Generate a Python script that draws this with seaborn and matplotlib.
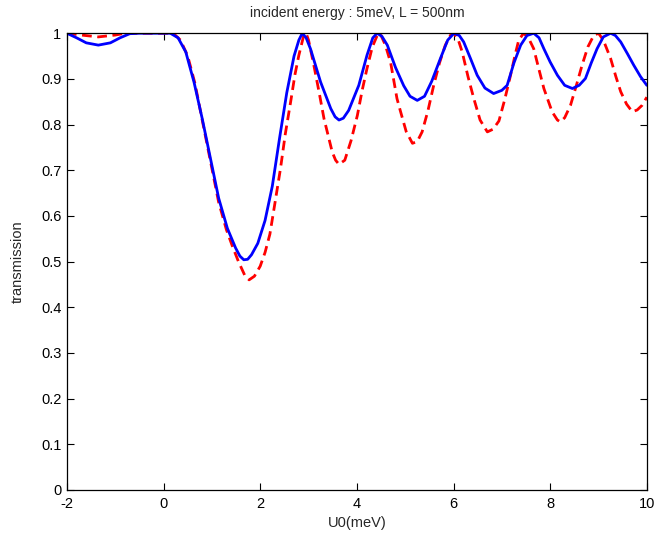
import numpy as np
import pandas as pd
import matplotlib
matplotlib.use("Agg")
import matplotlib.pyplot as plt
import seaborn as sns

# ---- data ----
blue_x = [-2.0, -1.8, -1.6, -1.35, -1.1, -0.9, -0.7, -0.5, 0.0, 0.14, 0.3, 0.46, 0.63, 0.80,
          0.97, 1.14, 1.32, 1.49, 1.58, 1.66, 1.74, 1.82, 1.95, 2.10, 2.25, 2.40, 2.55, 2.70,
          2.80, 2.87, 2.95, 3.04, 3.25, 3.46, 3.55, 3.63, 3.72, 3.83, 4.04, 4.21, 4.33, 4.42,
          4.52, 4.63, 4.80, 4.97, 5.10, 5.25, 5.40, 5.55, 5.73, 5.88, 6.01, 6.12, 6.21, 6.35,
          6.49, 6.65, 6.83, 7.00, 7.11, 7.25, 7.39, 7.52, 7.66, 7.77, 7.87, 8.00, 8.15, 8.30,
          8.46, 8.60, 8.73, 8.85, 8.97, 9.10, 9.25, 9.35, 9.46, 9.60, 9.73, 9.87, 10.0]
blue_y = [1.000, 0.990, 0.979, 0.974, 0.979, 0.990, 0.999, 1.000, 1.000, 1.000, 0.990, 0.959,
          0.893, 0.813, 0.726, 0.639, 0.573, 0.530, 0.512, 0.504, 0.505, 0.515, 0.540, 0.590,
          0.665, 0.770, 0.870, 0.950, 0.985, 1.000, 0.990, 0.966, 0.893, 0.835, 0.817, 0.810,
          0.814, 0.831, 0.886, 0.952, 0.990, 1.000, 0.993, 0.974, 0.925, 0.885, 0.862, 0.853,
          0.862, 0.895, 0.945, 0.985, 1.000, 0.995, 0.981, 0.945, 0.908, 0.880, 0.868, 0.875,
          0.886, 0.935, 0.974, 0.995, 1.000, 0.990, 0.966, 0.937, 0.908, 0.886, 0.879, 0.886,
          0.901, 0.935, 0.966, 0.992, 1.000, 0.995, 0.981, 0.955, 0.930, 0.905, 0.886]

red_x = [-2.0, -1.7, -1.35, -1.0, -0.8, 0.0, 0.2, 0.35, 0.50, 0.65, 0.80, 0.97, 1.14, 1.30,
         1.42, 1.55, 1.68, 1.77, 1.88, 2.00, 2.10, 2.20, 2.30, 2.42, 2.52, 2.63, 2.72, 2.80,
         2.90, 2.95, 3.00, 3.11, 3.22, 3.32, 3.49, 3.56, 3.63, 3.75, 3.88, 4.01, 4.11, 4.21,
         4.32, 4.42, 4.48, 4.59, 4.70, 4.83, 4.90, 5.02, 5.15, 5.25, 5.35, 5.47, 5.59, 5.71,
         5.83, 5.95, 6.01, 6.10, 6.18, 6.30, 6.42, 6.55, 6.70, 6.82, 6.94, 7.06, 7.18, 7.28,
         7.35, 7.45, 7.55, 7.66, 7.77, 7.87, 8.04, 8.15, 8.21, 8.30, 8.42, 8.54, 8.66, 8.78,
         8.90, 9.00, 9.10, 9.25, 9.36, 9.46, 9.58, 9.70, 9.80, 9.90, 10.0]
red_y = [1.000, 0.996, 0.992, 0.996, 1.000, 1.000, 1.000, 0.985, 0.950, 0.890, 0.810, 0.720,
         0.630, 0.570, 0.535, 0.500, 0.470, 0.460, 0.468, 0.490, 0.520, 0.560, 0.625, 0.704,
         0.780, 0.850, 0.910, 0.952, 0.995, 1.000, 0.985, 0.930, 0.870, 0.813, 0.740, 0.722,
         0.713, 0.722, 0.765, 0.820, 0.875, 0.923, 0.970, 0.995, 1.000, 0.974, 0.935, 0.857,
         0.830, 0.785, 0.759, 0.763, 0.784, 0.830, 0.886, 0.935, 0.974, 0.998, 1.000, 0.985,
         0.959, 0.905, 0.857, 0.810, 0.784, 0.790, 0.808, 0.855, 0.908, 0.955, 0.985, 1.000,
         0.990, 0.966, 0.920, 0.879, 0.828, 0.810, 0.806, 0.815, 0.842, 0.885, 0.930, 0.970,
         0.995, 1.000, 0.985, 0.945, 0.905, 0.872, 0.845, 0.828, 0.832, 0.842, 0.860]

x_ticks = [-2, 0, 2, 4, 6, 8, 10]
x_tick_labels = ["-2", "0", "2", "4", "6", "8", "10"]
y_ticks = [0, 0.1, 0.2, 0.3, 0.4, 0.5, 0.6, 0.7, 0.8, 0.9, 1.0]
y_tick_labels = ["0", "0.1", "0.2", "0.3", "0.4", "0.5", "0.6", "0.7", "0.8", "0.9", "1"]

title = "incident energy : 5meV, L = 500nm"
x_label = "U0(meV)"
y_label = "transmission"

# ---- plot ----
sns.set_style("ticks")
plt.rcParams["font.family"] = ["Liberation Sans", "DejaVu Sans"]

fig = plt.figure(figsize=(6.56, 5.45), dpi=100)
ax = fig.add_axes([0.102, 0.101, 0.884, 0.838])

red_df = pd.DataFrame({"x": red_x, "y": red_y})
blue_df = pd.DataFrame({"x": blue_x, "y": blue_y})

sns.lineplot(data=red_df, x="x", y="y", ax=ax, color=(1, 0, 0), linewidth=2.0,
             linestyle=(0, (3.5, 2.0)), estimator=None, sort=False)
sns.lineplot(data=blue_df, x="x", y="y", ax=ax, color=(0, 0, 1), linewidth=2.0,
             estimator=None, sort=False)

ax.set_xlim(-2, 10)
ax.set_ylim(0, 1)
ax.set_xticks(x_ticks)
ax.set_xticklabels(x_tick_labels)
ax.set_yticks(y_ticks)
ax.set_yticklabels(y_tick_labels)
ax.tick_params(direction="in", length=5, width=0.8, top=True, right=True,
               labelsize=10.5, colors="black")
ax.tick_params(axis="x", pad=5)
ax.tick_params(axis="y", pad=4)
for s in ax.spines.values():
    s.set_visible(True)
    s.set_linewidth(0.9)
    s.set_color("black")

ax.set_title(title, fontsize=10, pad=12)
ax.set_xlabel(x_label, fontsize=10.5, labelpad=4)
ax.set_ylabel(y_label, fontsize=10.5, labelpad=12)

fig.savefig("out.png", dpi=100)
